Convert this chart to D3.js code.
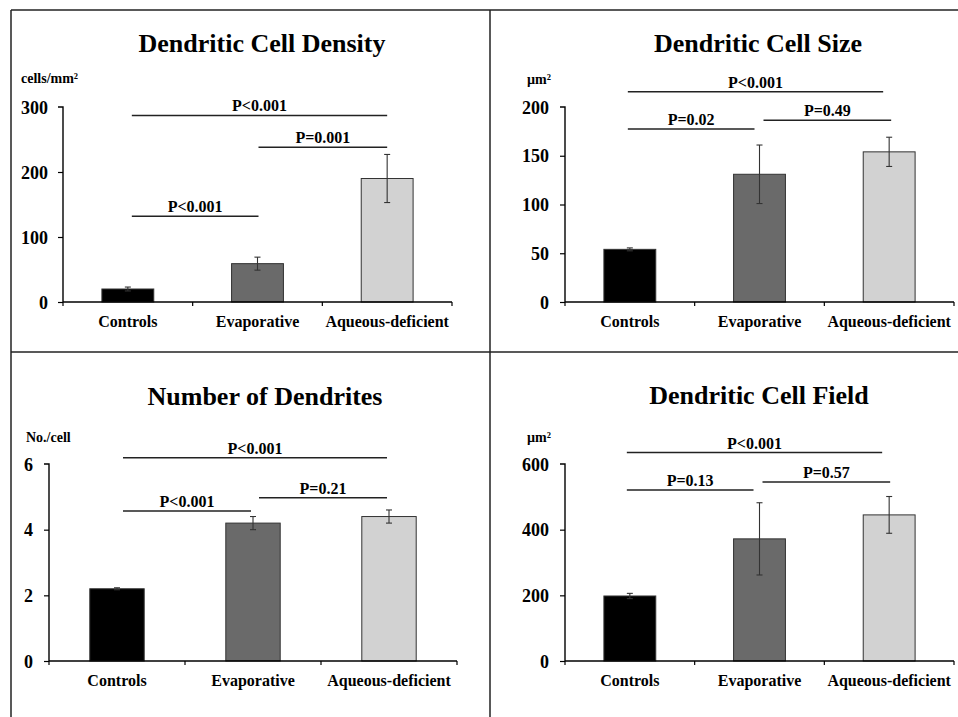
<!DOCTYPE html>
<html><head><meta charset="utf-8">
<script src="https://cdn.jsdelivr.net/npm/d3@7"></script>
<style>
html,body{margin:0;padding:0;background:#fff;}
svg text{font-family:"Liberation Serif","Times New Roman",serif;font-weight:bold;fill:#000;}
</style></head>
<body>
<svg id="chart" width="958" height="717"></svg>
<script>
// ---- data ----
const categories = ["Controls", "Evaporative", "Aqueous-deficient"];
const titles = ["Dendritic Cell Density", "Dendritic Cell Size", "Number of Dendrites", "Dendritic Cell Field"];
const units = ["cells/mm²", "µm²", "No./cell", "µm²"];
const densityMean = [20, 59, 190];
const densityErr = [3, 10, 37];
const sizeMean = [54, 131, 154];
const sizeErr = [1.5, 30, 15];
const dendritesMean = [2.2, 4.2, 4.4];
const dendritesErr = [0.03, 0.2, 0.2];
const fieldMean = [198, 372, 445];
const fieldErr = [8, 110, 56];
const densityTicks = [0, 100, 200, 300];
const sizeTicks = [0, 50, 100, 150, 200];
const dendritesTicks = [0, 2, 4, 6];
const fieldTicks = [0, 200, 400, 600];
// significance brackets: [from category, to category, level (data units), label]
const densityP = [[0, 2, 287, "P<0.001"], [1, 2, 238, "P=0.001"], [0, 1, 132, "P<0.001"]];
const sizeP = [[0, 2, 215.7, "P<0.001"], [0, 1, 177.4, "P=0.02"], [1, 2, 186.4, "P=0.49"]];
const dendritesP = [[0, 2, 6.19, "P<0.001"], [0, 1, 4.57, "P<0.001"], [1, 2, 4.97, "P=0.21"]];
const fieldP = [[0, 2, 635, "P<0.001"], [0, 1, 521, "P=0.13"], [1, 2, 545, "P=0.57"]];

// ---- layout ----
const fills = ["#000000", "#6a6a6a", "#d2d2d2"];
const panels = [
  {mean: densityMean, err: densityErr, ticks: densityTicks, p: densityP,
   x0: 63, x1: 452, yZero: 302, yTop: 107, tx: 262, ty: 52, ux: 21, uy: 83, tickRight: 48,
   nudge: [[4, 0], [1, 0], [4, 1]]},
  {mean: sizeMean, err: sizeErr, ticks: sizeTicks, p: sizeP,
   x0: 565, x1: 954, yZero: 302, yTop: 107, tx: 758, ty: 52, ux: 527, uy: 84, tickRight: 549,
   nudge: [[-2, -6], [-2, -5], [4, 2]]},
  {mean: dendritesMean, err: dendritesErr, ticks: dendritesTicks, p: dendritesP,
   x0: 49, x1: 457, yZero: 661, yTop: 464, tx: 265, ty: 405, ux: 26, uy: 442, tickRight: 33,
   nudge: [[6, -2], [6, -2], [6, -2]]},
  {mean: fieldMean, err: fieldErr, ticks: fieldTicks, p: fieldP,
   x0: 565, x1: 954, yZero: 661, yTop: 464, tx: 759, ty: 404, ux: 527, uy: 442, tickRight: 549,
   nudge: [[-3, -7], [-3, -6], [3, 1]]}
];

const svg = d3.select("#chart");

// frame
const frame = svg.append("g").attr("stroke", "#222").attr("stroke-width", 1.5).attr("fill", "none");
frame.append("line").attr("x1", 11).attr("x2", 958).attr("y1", 10).attr("y2", 10);
frame.append("line").attr("x1", 11).attr("x2", 11).attr("y1", 10).attr("y2", 717);
frame.append("line").attr("x1", 11).attr("x2", 958).attr("y1", 352).attr("y2", 352);
frame.append("line").attr("x1", 490).attr("x2", 490).attr("y1", 10).attr("y2", 717);

panels.forEach((cfg, i) => {
  const g = svg.append("g");
  const x = d3.scaleBand().domain(categories).range([cfg.x0, cfg.x1]).paddingInner(0.6).paddingOuter(0.3);
  const yMax = cfg.ticks[cfg.ticks.length - 1];
  const y = d3.scaleLinear().domain([0, yMax]).range([cfg.yZero, cfg.yTop]);
  const cx = c => x(c) + x.bandwidth() / 2;

  // title & unit
  g.append("text").attr("x", cfg.tx).attr("y", cfg.ty).attr("text-anchor", "middle")
    .style("font-size", "26px").text(titles[i]);
  g.append("text").attr("x", cfg.ux).attr("y", cfg.uy).style("font-size", "14px").text(units[i]);

  // bars
  g.selectAll("rect.bar").data(categories).enter().append("rect")
    .attr("x", d => x(d)).attr("width", x.bandwidth())
    .attr("y", (d, k) => y(cfg.mean[k]))
    .attr("height", (d, k) => y(0) - y(cfg.mean[k]))
    .attr("fill", (d, k) => fills[k])
    .attr("stroke", "#333").attr("stroke-width", 1);

  // error bars
  const eb = g.append("g").attr("stroke", "#333").attr("stroke-width", 1.1);
  categories.forEach((c, k) => {
    const hi = y(cfg.mean[k] + cfg.err[k]), lo = y(cfg.mean[k] - cfg.err[k]);
    eb.append("line").attr("x1", cx(c)).attr("x2", cx(c)).attr("y1", hi).attr("y2", lo);
    eb.append("line").attr("x1", cx(c) - 3).attr("x2", cx(c) + 3).attr("y1", hi).attr("y2", hi);
    eb.append("line").attr("x1", cx(c) - 3).attr("x2", cx(c) + 3).attr("y1", lo).attr("y2", lo);
  });

  // y axis
  const yAxis = d3.axisLeft(y).tickValues(cfg.ticks).tickSize(5).tickPadding(cfg.x0 - cfg.tickRight - 5)
    .tickFormat(d3.format("d"));
  const ya = g.append("g").attr("transform", `translate(${cfg.x0},0)`).call(yAxis);
  ya.select(".domain").attr("d", `M-5,${y(yMax)}H0V${y(0)}`).attr("stroke", "#000").attr("stroke-width", 1.4);
  ya.selectAll(".tick line").attr("stroke", "#000").attr("stroke-width", 1.2);
  ya.selectAll(".tick text").style("font-size", "18px").attr("dy", "0.34em")
    .style("font-family", "'Liberation Serif','Times New Roman',serif").style("font-weight", "bold");
  ya.selectAll(".tick").filter(d => d === yMax).select("line").remove();

  // x axis (ticks at category boundaries)
  const xa = g.append("g").attr("transform", `translate(0,${cfg.yZero})`);
  xa.append("line").attr("x1", cfg.x0).attr("x2", cfg.x1).attr("y1", 0).attr("y2", 0)
    .attr("stroke", "#000").attr("stroke-width", 1.4);
  const bounds = d3.range(categories.length + 1).map(k => cfg.x0 + k * x.step());
  xa.selectAll("line.tk").data(bounds).enter().append("line")
    .attr("x1", d => d).attr("x2", d => d).attr("y1", 0).attr("y2", 4)
    .attr("stroke", "#000").attr("stroke-width", 1.2);
  xa.selectAll("text").data(categories).enter().append("text")
    .attr("x", d => cx(d)).attr("y", 25).attr("text-anchor", "middle")
    .style("font-size", "16px").text(d => d);

  // significance brackets
  cfg.p.forEach((b, k) => {
    const xa1 = cx(categories[b[0]]) + cfg.nudge[k][0];
    const xb1 = cx(categories[b[1]]) + cfg.nudge[k][1];
    const yy = y(b[2]);
    g.append("line").attr("x1", xa1).attr("x2", xb1).attr("y1", yy).attr("y2", yy)
      .attr("stroke", "#222").attr("stroke-width", 1.4);
    g.append("text").attr("x", (xa1 + xb1) / 2).attr("y", yy - 4).attr("text-anchor", "middle")
      .style("font-size", "16px").text(b[3]);
  });
});
</script>
</body></html>
